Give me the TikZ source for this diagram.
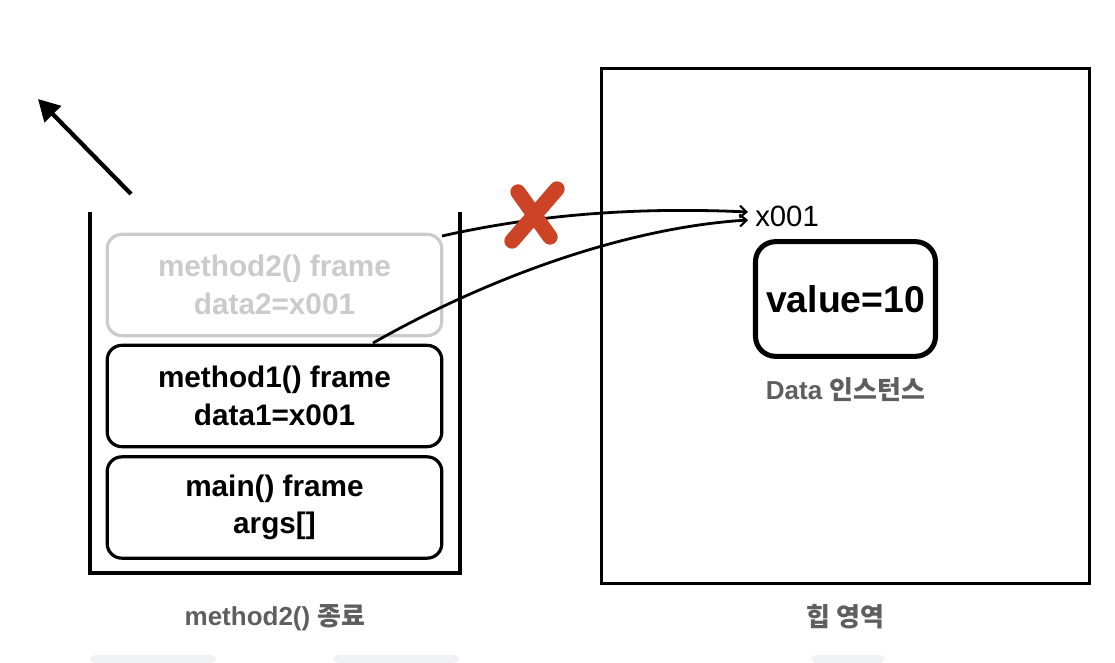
\documentclass[tikz,border=0pt]{standalone}
\usepackage{fontspec}
\setmainfont{Liberation Sans}
\newfontfamily\kr{Noto Sans CJK KR}
\usetikzlibrary{arrows.meta}
\definecolor{labgray}{HTML}{5E5E5E}
\definecolor{ghost}{HTML}{CBCBCB}
\definecolor{xred}{HTML}{CC4326}
\definecolor{faint}{HTML}{F0F1F4}
\newcommand{\krb}[1]{{\kr\bfseries #1}}
\tikzset{
  frame/.style={draw=black, line width=2.4pt, rounded corners=11pt, minimum width=251pt, minimum height=76pt, align=center, font=\bfseries\fontsize{22.3}{28}\selectfont},
  ghostframe/.style={frame, draw=ghost, text=ghost},
  wall/.style={line width=2.3pt},
  ref/.style={line width=2.1pt, -{Straight Barb[length=5pt,width=9pt,line width=1.6pt]}},
  caption/.style={text=labgray, font=\bfseries\fontsize{19.5}{23}\selectfont},
  cross/.style={xred, line width=11.5pt, line cap=round},
}
\begin{document}
\begin{tikzpicture}[x=0.75pt,y=-0.75pt]
\useasboundingbox (0,0) rectangle (1115,663);
% faint tabs at the bottom edge
\fill[faint, rounded corners=4pt] (90,663) -- (90,655) -- (216,655) -- (216,663) -- cycle;
\fill[faint, rounded corners=4pt] (333,663) -- (333,655) -- (459,655) -- (459,663) -- cycle;
\fill[faint, rounded corners=4pt] (811,663) -- (811,655) -- (885,655) -- (885,663) -- cycle;

% stack container
\draw[wall] (90,212) -- (90,573) -- (460,573) -- (460,212);

% frames
\node[ghostframe] (m2) at (274.5,285) {method2() frame\\data2=x001};
\node[frame] (m1) at (274.5,396) {method1() frame\\data1=x001};
\node[frame] (mn) at (274.5,507.5) {main() frame\\args[]};

% pop arrow
\coordinate (popS) at (131,194);
\coordinate (popE) at (38,99);
\draw[line width=3.2pt, -{Triangle[length=16pt,width=17pt]}] (popS) -- (popE);

% heap
\node[draw, line width=2.4pt, minimum width=366pt, minimum height=386pt] (heap) at (845.5,326) {};
\node[draw, line width=3.8pt, rounded corners=15pt, minimum width=135pt, minimum height=86pt, font=\bfseries\fontsize{28}{32}\selectfont] (val) at (845.5,299) {value=10};
\node[anchor=west, inner sep=0pt, font=\fontsize{22}{24}\selectfont] (addr) at (755,216) {x001};
\node[caption] (inst) at (845.5,390) {Data \krb{인스턴스}};

% captions
\node[caption] (cap1) at (275,618) {method2() \krb{종료}};
\node[caption] (cap2) at (845.5,617) {\krb{힙 영역}};

% references
\coordinate (s1) at (442,236);
\coordinate (e1) at (748,212);
\coordinate (s2) at (373,343);
\coordinate (e2) at (748,220);
\draw[ref] (s1) .. controls (540,214) and (640,207) .. (e1);
\draw[ref] (s2) .. controls (480,282) and (620,228) .. (e2);

% red cross
\coordinate (xa) at (518,192);
\coordinate (xb) at (550,237);
\coordinate (xc) at (557,189);
\coordinate (xd) at (512,241);
\draw[cross] (xa) -- (xb);
\draw[cross] (xc) -- (xd);
\end{tikzpicture}
\end{document}
